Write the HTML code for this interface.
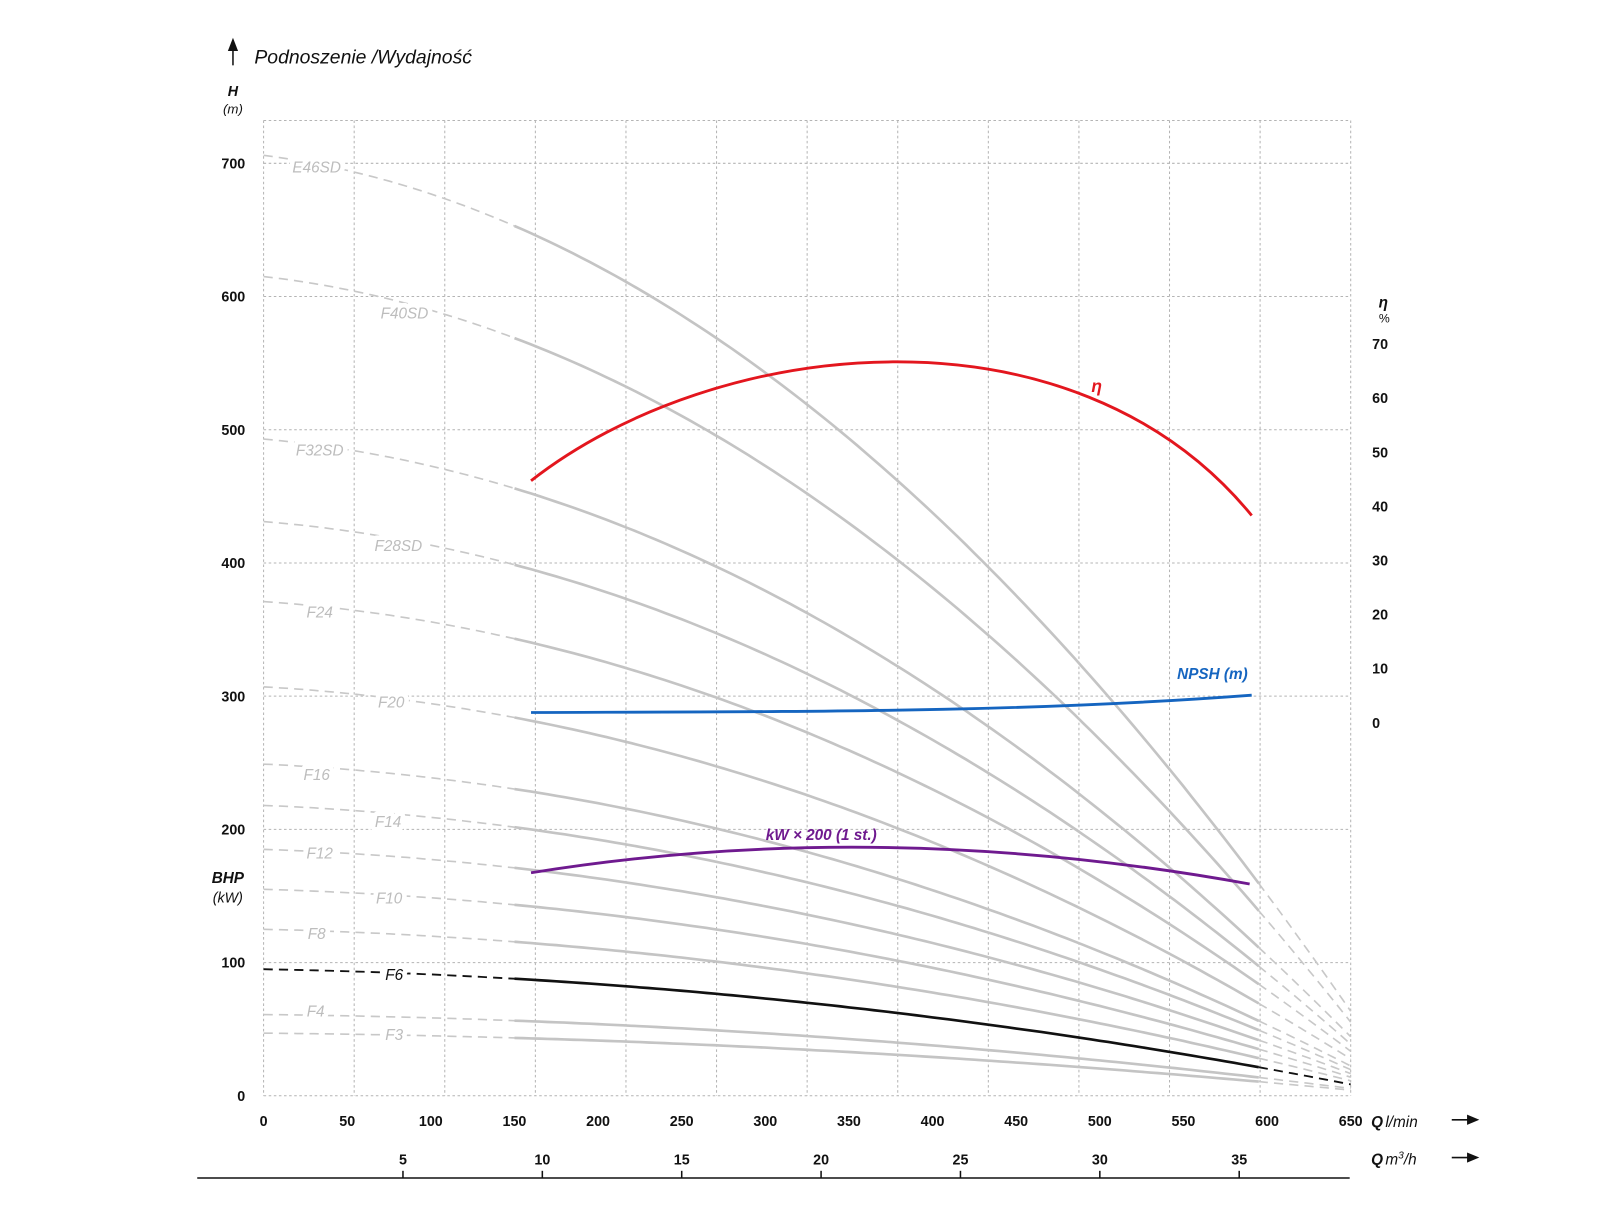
<!DOCTYPE html>
<html><head><meta charset="utf-8"><style>
html,body{margin:0;padding:0;background:#fff;}
svg{display:block;}
text{font-family:"Liberation Sans",sans-serif;}
</style></head><body>
<svg id="s" width="1600" height="1229" viewBox="0 0 1567 1204" xmlns="http://www.w3.org/2000/svg">
<rect x="0" y="0" width="1567" height="1204" fill="#fff"/>
<g id="grid" stroke="#b4b4b4" stroke-width="1" stroke-dasharray="2.5,2.5" fill="none"></g>
<g id="curves"></g>
<path d="M520,471 C700,330 1050,290 1226,505" stroke="#e3161e" stroke-width="2.8" fill="none"/>
<path d="M520,698 C800,697 1000,698 1226,681" stroke="#1565c0" stroke-width="2.8" fill="none"/>
<path d="M520,855 Q860,800 1224,866" stroke="#6f1a8f" stroke-width="2.8" fill="none"/>
<text x="1069" y="384" fill="#e3161e" font-size="17" font-weight="bold" font-style="italic">η</text>
<text x="1153" y="665" fill="#1565c0" font-size="15" font-weight="bold" font-style="italic">NPSH (m)</text>
<text x="750" y="823" fill="#6f1a8f" font-size="15" font-weight="bold" font-style="italic">kW × 200 (1 st.)</text>
<path d="M228,64 L228,42" stroke="#111" stroke-width="1.5"/>
<path d="M223,50 L228,37 L233,50 Z" fill="#111"/>
<text x="249" y="62" font-size="19" font-style="italic" fill="#111">Podnoszenie /Wydajność</text>
<text x="228" y="94" font-size="14" font-weight="bold" font-style="italic" text-anchor="middle" fill="#111">H</text>
<text x="228" y="111" font-size="13" font-style="italic" text-anchor="middle" fill="#111">(m)</text>
<text x="223" y="865" font-size="15" font-weight="bold" font-style="italic" text-anchor="middle" fill="#111">BHP</text>
<text x="223" y="884" font-size="14" font-style="italic" text-anchor="middle" fill="#111">(kW)</text>
<text x="1355" y="301" font-size="15" font-weight="bold" font-style="italic" text-anchor="middle" fill="#111">η</text>
<text x="1356" y="316" font-size="12" text-anchor="middle" fill="#111">%</text>
<g id="labels" font-size="14" font-weight="bold" fill="#111"></g>
<line x1="193" y1="1154" x2="1322" y2="1154" stroke="#111" stroke-width="1.5"/>
<text x="1343" y="1104" font-size="15" font-weight="bold" font-style="italic" fill="#111">Q</text>
<text x="1357" y="1104" font-size="15" font-style="italic" fill="#111">l/min</text>
<text x="1343" y="1141" font-size="15" font-weight="bold" font-style="italic" fill="#111">Q</text>
<text x="1357" y="1141" font-size="15" font-style="italic" fill="#111">m<tspan font-size="10" dy="-6">3</tspan><tspan dy="6">/h</tspan></text>
<line x1="1422" y1="1097" x2="1440" y2="1097" stroke="#111" stroke-width="1.6"/>
<path d="M1437,1092 L1449,1097 L1437,1102 Z" fill="#111"/>
<line x1="1422" y1="1134" x2="1440" y2="1134" stroke="#111" stroke-width="1.6"/>
<path d="M1437,1129 L1449,1134 L1437,1139 Z" fill="#111"/>
</svg>
<script>
(function(){
var NS="http://www.w3.org/2000/svg";
function el(p,t,a,txt){var e=document.createElementNS(NS,t);for(var k in a)e.setAttribute(k,a[k]);if(txt!==undefined)e.textContent=txt;p.appendChild(e);return e;}
var X0=258,X1=1323,Y0=1073.5,PX=(X1-X0)/650,PY=130.5/100;
var g=document.getElementById('grid');
for(var k=0;k<=12;k++){var x=X0+k*(X1-X0)/12;el(g,'line',{x1:x,y1:118,x2:x,y2:Y0});}
for(var k=0;k<=7;k++){var y=Y0-k*130.5;el(g,'line',{x1:X0,y1:y,x2:X1,y2:y});}
el(g,'line',{x1:X0,y1:118,x2:X1,y2:118});
var L=document.getElementById('labels');
for(var k=0;k<=7;k++){el(L,'text',{x:240,y:Y0-k*130.5+5,'text-anchor':'end'},String(k*100));}
for(var q=0;q<=650;q+=50){el(L,'text',{x:X0+q*PX,y:1103,'text-anchor':'middle'},String(q));}
for(var m=5;m<=35;m+=5){var x=X0+m*1000/60*PX;el(L,'text',{x:x,y:1141,'text-anchor':'middle'},String(m));
 el(document.getElementById('s'),'line',{x1:x,y1:1147,x2:x,y2:1154,stroke:'#111','stroke-width':1.5});}
for(var e=0;e<=70;e+=10){el(L,'text',{x:1344,y:708-e*5.3+5},String(e));}
function f(q){q=q/650;return 1-0.15*q-0.76*q*q;}
var C=document.getElementById('curves');
var data=[["E46SD",706,310,164],["F40SD",615,396,307],["F32SD",493,313,441],["F28SD",431,390,535],["F24",371,313,600],["F20",307,383,688],["F16",249,310,759],["F14",218,380,805],["F12",185,313,836],["F10",155,381,880],["F8",125,310,915],["F6",95,386,955],["F4",61,309,991],["F3",47,386,1014]];
function pts(h,a,b){var s="";for(var q=a;q<=b+0.01;q+=5){s+=(s?" L":"M")+(X0+q*PX).toFixed(1)+","+(Y0-h*f(q)*PY).toFixed(1);}return s;}
data.forEach(function(d){
 var black=d[0]=="F6",col=black?"#111":"#c4c4c4",dcol=black?"#111":"#c8c8c8";
 el(C,'path',{d:pts(d[1],0,150),stroke:dcol,'stroke-width':black?1.8:1.6,'stroke-dasharray':'9,6',fill:'none'});
 el(C,'path',{d:pts(d[1],150,595),stroke:col,'stroke-width':2.6,fill:'none'});
 el(C,'path',{d:pts(d[1],595,650),stroke:dcol,'stroke-width':black?1.8:1.6,'stroke-dasharray':'9,6',fill:'none'});
 el(C,'text',{x:d[2],y:d[3]+5,'text-anchor':'middle','font-size':15,'font-style':'italic',fill:black?"#111":"#bdbdbd",stroke:'#fff','stroke-width':9,'paint-order':'stroke','stroke-linejoin':'round'},d[0]);
});
})();
</script>
</body></html>
